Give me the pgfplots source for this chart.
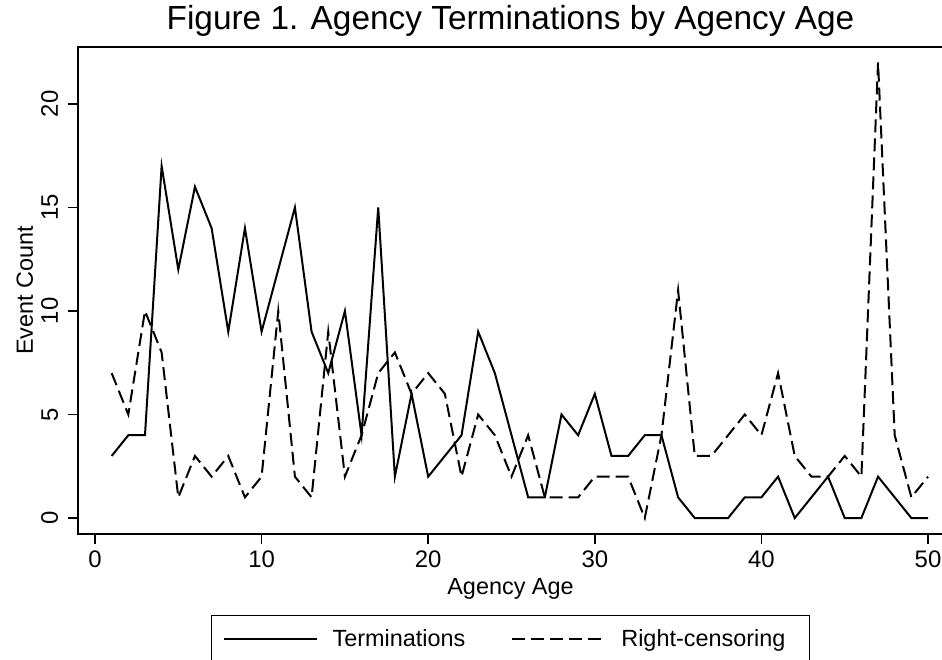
\documentclass[border=0pt]{standalone}
\usepackage{fontspec}
\setmainfont{Liberation Sans}
\usepackage{pgfplots}
\pgfplotsset{compat=1.18}
\pgfplotstableread{
x t r
1 3 7
2 4 5
3 4 10
4 17 8
5 12 1
6 16 3
7 14 2
8 9 3
9 14 1
10 9 2
11 12 10
12 15 2
13 9 1
14 7 9
15 10 2
16 4 4
17 15 7
18 2 8
19 6 6
20 2 7
21 3 6
22 4 2
23 9 5
24 7 4
25 4 2
26 1 4
27 1 1
28 5 1
29 4 1
30 6 2
31 3 2
32 3 2
33 4 0
34 4 4
35 1 11
36 0 3
37 0 3
38 0 4
39 1 5
40 1 4
41 2 7
42 0 3
43 1 2
44 2 2
45 0 3
46 0 2
47 2 22
48 1 4
49 0 1
50 0 2
}\data
\begin{document}
\begin{tikzpicture}[x=1bp,y=1bp]
\begin{axis}[
  at={(78bp,126bp)}, anchor=south west,
  scale only axis, width=865bp, height=487bp,
  xmin=-1.02, xmax=50.9, ymin=-0.77, ymax=22.75,
  axis line style={line width=1.5bp},
  tick align=outside, major tick length=10bp,
  tick style={line width=1.5bp, black},
  xtick={0,10,...,50}, ytick={0,5,...,20},
  xtick pos=bottom, ytick pos=left,
  /pgf/number format/assume math mode=true,
  ticklabel style={font=\fontsize{24}{24}\selectfont},
  xticklabel style={anchor=base, yshift=-24bp},
  yticklabel style={xshift=-10bp, rotate=90, anchor=base},
  title={Figure 1. Agency Terminations by Agency Age},
  title style={at={(0.5,1)}, anchor=base, yshift=12bp, font=\fontsize{33.5}{33.5}\selectfont},
  xlabel={Agency Age},
  xlabel style={at={(axis description cs:0.5,0)}, anchor=base, yshift=-61bp, font=\fontsize{23.5}{23.5}\selectfont},
  ylabel={Event Count},
  ylabel style={at={([xshift=-45bp]axis description cs:0,0.5)}, rotate=0, anchor=base, font=\fontsize{23.5}{23.5}\selectfont},
  legend columns=2,
  legend image code/.code={\draw[#1] (0bp,0bp) -- (93bp,0bp);},
  legend style={at={(0.5,0)}, anchor=north, yshift=-81bp, draw=black, line width=1.5bp,
    inner xsep=11bp, inner ysep=14bp, font=\fontsize{23.5}{23.5}\selectfont,
    nodes={inner sep=0pt},
    /tikz/every odd column/.append style={column sep=15bp},
    /tikz/every even column/.append style={column sep=46bp}},
]
\addplot[black, line width=2bp] table[x=x, y=t] {\data};
\addlegendentry{Terminations}
\addplot[black, line width=2bp, dash pattern=on 13bp off 6bp] table[x=x, y=r] {\data};
\addlegendentry{Right-censoring\hspace*{13bp}}
\end{axis}
\pgfresetboundingbox
\useasboundingbox (0,0) rectangle (942,660);
\end{tikzpicture}
\end{document}
